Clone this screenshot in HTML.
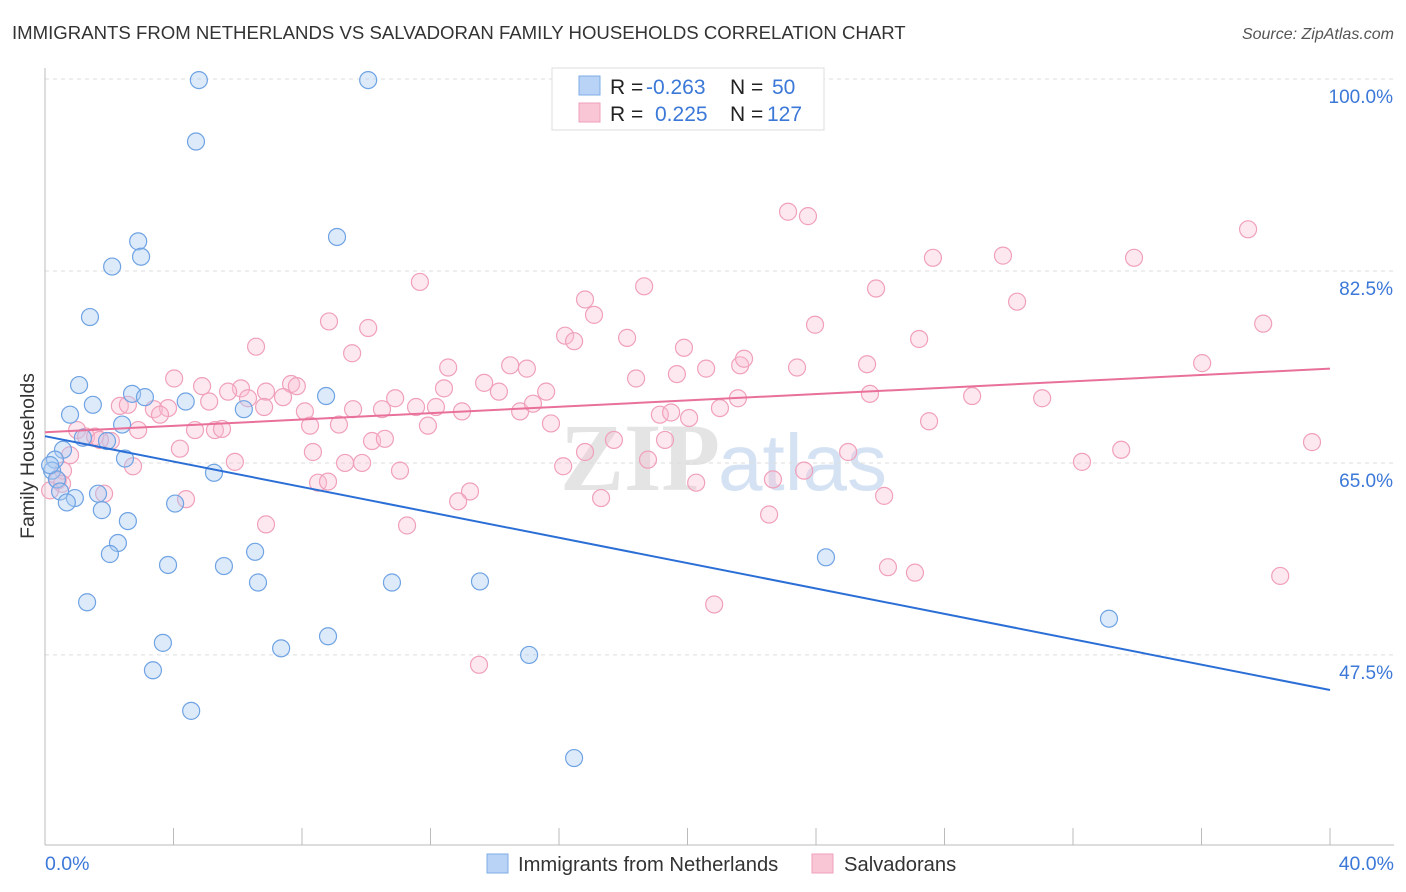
<!DOCTYPE html>
<html><head><meta charset="utf-8"><style>
body{margin:0;background:#fff;font-family:"Liberation Sans",sans-serif;}
svg{display:block}
</style></head><body>
<svg id="chart" width="1406" height="892" xmlns="http://www.w3.org/2000/svg">
<text x="12" y="39" font-size="18.6" fill="#333">IMMIGRANTS FROM NETHERLANDS VS SALVADORAN FAMILY HOUSEHOLDS CORRELATION CHART</text>
<text x="1394" y="39" font-size="16" fill="#555" font-style="italic" text-anchor="end">Source: ZipAtlas.com</text>
<text x="720" y="490" font-size="96" font-weight="bold" fill="#e4e4e4" text-anchor="end" font-family="Liberation Serif">ZIP</text>
<text x="718" y="490" font-size="80" fill="#d4e2f3">atlas</text>
<g id="grid"></g><g id="axes"></g><g id="pts"></g><g id="lines"></g>
<text transform="translate(34,456) rotate(-90)" font-size="19.5" fill="#333" text-anchor="middle">Family Households</text>
<text x="45" y="870" font-size="19.5" fill="#3b78d8">0.0%</text>
<text x="1394" y="870" font-size="19.5" fill="#3b78d8" text-anchor="end">40.0%</text>
<g>
<rect x="552" y="68" width="272" height="62" fill="#fff" stroke="#ddd"/>
<rect x="579" y="76" width="21" height="19" fill="#b8d3f5" stroke="#7eaee6"/>
<rect x="579" y="103" width="21" height="19" fill="#f9c6d6" stroke="#f0a0bb"/>
<text x="610" y="94" font-size="21" fill="#222">R = <tspan x="646" fill="#3b78d8">-0.263</tspan><tspan x="730">N = </tspan><tspan x="772" fill="#3b78d8">50</tspan></text>
<text x="610" y="121" font-size="21" fill="#222">R = <tspan x="655" fill="#3b78d8">0.225</tspan><tspan x="730">N = </tspan><tspan x="767" fill="#3b78d8">127</tspan></text>
</g>
<g>
<rect x="487" y="854" width="21" height="19" fill="#b8d3f5" stroke="#7eaee6"/>
<text x="518" y="871" font-size="20.2" fill="#333">Immigrants from Netherlands</text>
<rect x="812" y="854" width="21" height="19" fill="#f9c6d6" stroke="#f0a0bb"/>
<text x="844" y="871" font-size="20.2" fill="#333">Salvadorans</text>
</g>
</svg>
<script>
const yTicks=[100,82.5,65,47.5];
const yTickLabels=["100.0%","82.5%","65.0%","47.5%"];
const xTicks=[0,4,8,12,16,20,24,28,32,36,40];
const blueX=[4.79,10.06,4.70,2.90,2.99,2.09,9.09,1.40,1.06,1.49,0.78,2.71,3.11,4.38,6.19,8.75,2.40,0.56,1.18,1.93,0.31,2.49,5.26,0.22,0.37,0.47,0.93,0.68,1.65,1.77,2.58,4.05,2.27,2.02,6.54,3.83,5.57,6.63,10.80,13.54,1.31,3.67,7.35,8.81,3.36,15.07,4.55,16.47,24.31,33.12,0.16];
const blueY=[99.9,99.9,94.3,85.2,83.8,82.9,85.6,78.3,72.1,70.3,69.4,71.3,71.0,70.6,69.9,71.1,68.5,66.2,67.3,67.0,65.3,65.4,64.1,64.3,63.5,62.4,61.8,61.4,62.2,60.7,59.7,61.3,57.7,56.7,56.9,55.7,55.6,54.1,54.1,54.2,52.3,48.6,48.1,49.2,46.1,47.5,42.4,38.1,56.4,50.8,64.8];
const pinkX=[23.13,23.75,37.45,11.67,18.65,16.81,17.09,25.87,27.64,29.82,33.90,30.26,8.84,10.06,23.97,37.92,16.19,16.47,18.12,27.21,6.57,9.56,19.89,12.55,14.48,15.0,20.58,21.64,21.76,23.41,25.59,36.02,4.02,4.89,6.10,7.66,7.84,12.42,13.67,14.13,15.60,18.40,19.67,5.70,6.88,5.11,7.41,6.32,10.90,21.57,25.68,28.86,31.04,2.33,2.58,3.39,3.83,3.58,6.82,8.09,9.59,10.49,11.55,12.17,12.98,14.79,15.19,21.01,19.14,19.49,20.05,2.90,4.67,5.29,5.51,8.25,9.15,11.92,15.75,27.52,1.0,1.28,1.56,2.05,1.71,10.18,10.58,4.20,8.34,16.81,17.71,19.30,25.0,33.5,39.44,0.78,0.56,0.40,2.74,5.91,9.34,9.87,11.05,16.13,18.77,32.28,23.63,8.50,8.81,13.23,12.86,17.31,20.27,22.66,26.12,1.84,4.39,6.88,11.27,22.54,26.24,27.08,38.45,20.83,13.51,0.53,0.16];
const pinkY=[87.9,87.5,86.3,81.5,81.1,79.9,78.5,80.9,83.7,83.9,83.7,79.7,77.9,77.3,77.6,77.7,76.6,76.1,76.4,76.3,75.6,75.0,75.5,73.7,73.9,73.6,73.6,73.9,74.5,73.7,74.0,74.1,72.7,72.0,71.8,72.2,72.0,71.8,72.3,71.5,71.5,72.7,73.1,71.5,71.5,70.6,71.0,70.9,70.9,70.9,71.3,71.1,70.9,70.2,70.3,69.9,70.0,69.4,70.1,69.7,69.9,69.9,70.1,70.1,69.7,69.7,70.4,70.0,69.4,69.6,69.1,68.0,68.0,68.0,68.1,68.4,68.5,68.4,68.6,68.8,68.0,67.4,67.4,67.0,67.1,67.0,67.2,66.3,66.0,66.0,67.1,67.1,66.0,66.2,66.9,65.7,64.3,63.4,64.7,65.1,65.0,65.0,64.3,64.7,65.3,65.1,64.3,63.2,63.3,62.4,61.5,61.8,63.2,63.5,62.0,62.2,61.7,59.4,59.3,60.3,55.5,55.0,54.7,52.1,46.6,63.1,62.5];
const blueTrend=[67.44,44.3];
const pinkTrend=[67.8,73.6];
const NS="http://www.w3.org/2000/svg";
const xs=v=>45+v/40*1285;
const ys=v=>79+(100-v)*10.97;
function mk(tag,attrs,parent){const e=document.createElementNS(NS,tag);for(const k in attrs)e.setAttribute(k,attrs[k]);parent.appendChild(e);return e;}
const grid=document.getElementById('grid'),axes=document.getElementById('axes'),pts=document.getElementById('pts'),lines=document.getElementById('lines');
yTicks.forEach((t,i)=>{
 const l=mk('line',{x1:45,x2:1394,y1:ys(t),y2:ys(t),stroke:'#ddd','stroke-dasharray':'4,4'},grid);
 
 
 const tx=mk('text',{x:1393,y:ys(t)+24,'font-size':19,fill:'#3b78d8','text-anchor':'end'},grid);
 tx.textContent=yTickLabels[i];
 
 
});
const ya=mk('line',{x1:45,x2:45,y1:68,y2:845,stroke:'#bbb'},axes);


const xa=mk('line',{x1:45,x2:1394,y1:845,y2:845,stroke:'#bbb'},axes);


xTicks.forEach(t=>{
 const tk=mk('line',{x1:xs(t),x2:xs(t),y1:828,y2:845,stroke:'#bbb'},axes);
 
 
});
pinkX.forEach((x,i)=>{
 const c=mk('circle',{cx:xs(x),cy:ys(pinkY[i]),r:8.5,fill:'rgba(248,190,208,0.35)',stroke:'#f0a0bb','stroke-width':1.2},pts);
 
 
});
blueX.forEach((x,i)=>{
 const c=mk('circle',{cx:xs(x),cy:ys(blueY[i]),r:8.5,fill:'rgba(170,202,242,0.4)',stroke:'#6fa3e3','stroke-width':1.2},pts);
 
 
});
const bl=mk('line',{x1:xs(0),y1:ys(blueTrend[0]),x2:xs(40),y2:ys(blueTrend[1]),stroke:'#2b6fd6','stroke-width':2},lines);


const pl=mk('line',{x1:xs(0),y1:ys(pinkTrend[0]),x2:xs(40),y2:ys(pinkTrend[1]),stroke:'#e8709a','stroke-width':2},lines);


</script>
</body></html>
